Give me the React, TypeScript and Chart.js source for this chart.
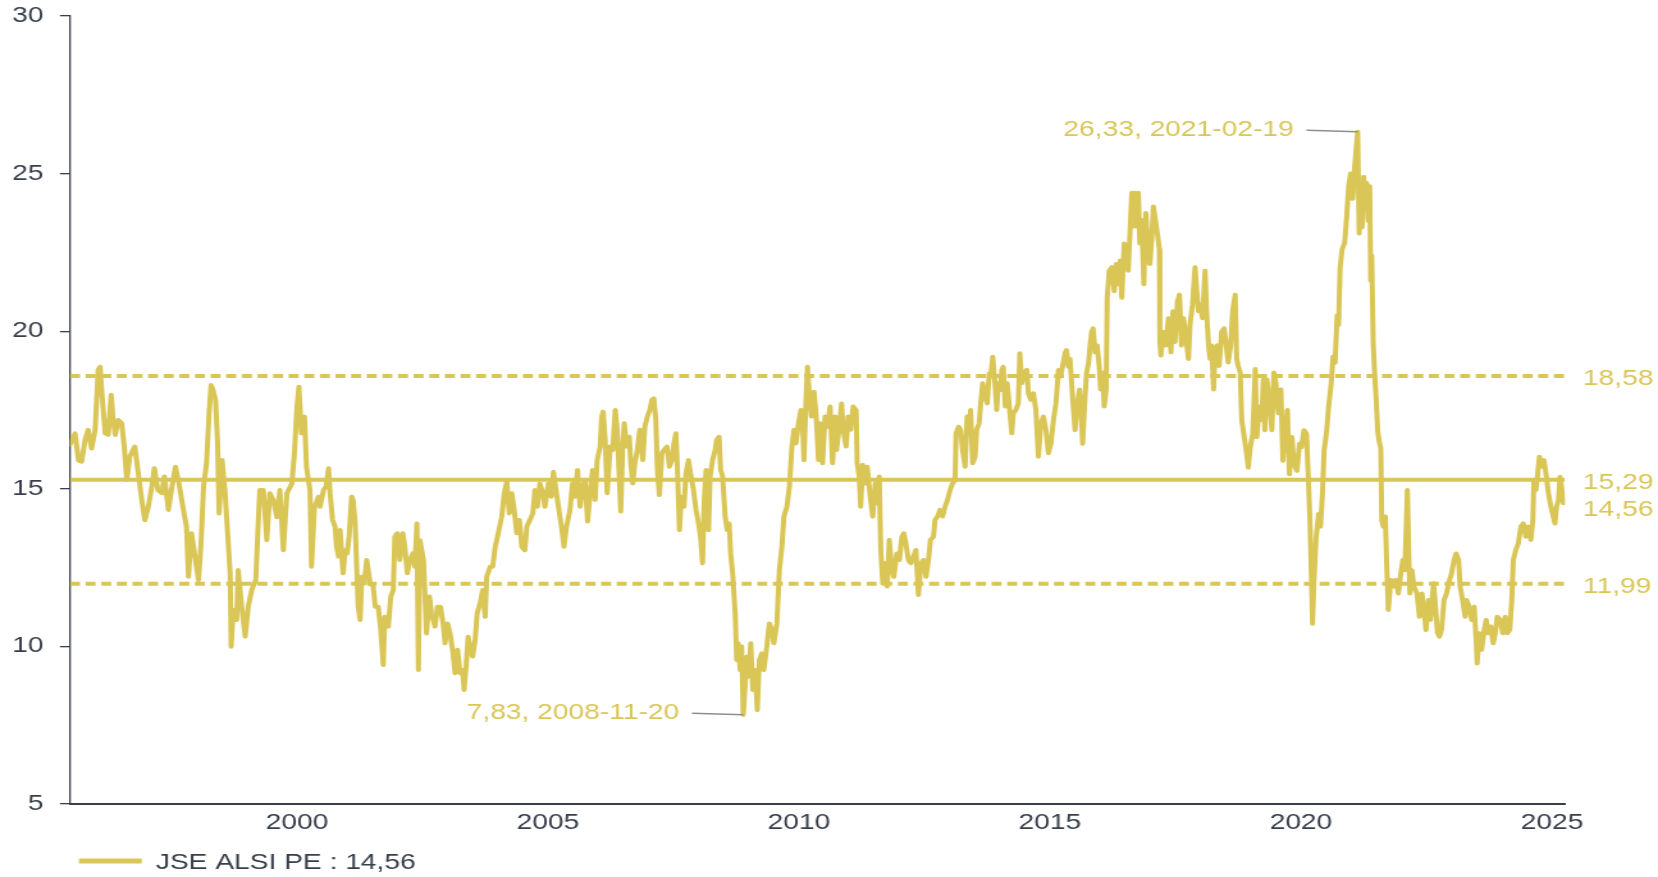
import React, { useEffect, useRef } from "react";
import { Chart, registerables } from "chart.js";

Chart.register(...registerables);

const SERIES_NAME = "JSE ALSI PE";

// decimal years
const dates: number[] = [
  1995.48, 1995.58, 1995.65, 1995.71, 1995.78, 1995.84, 1995.91, 1995.98, 1996.04, 1996.08,
  1996.12, 1996.18, 1996.24, 1996.30, 1996.34, 1996.38, 1996.44, 1996.51, 1996.56, 1996.61,
  1996.67, 1996.77, 1996.84, 1996.91, 1996.97, 1997.04, 1997.11, 1997.16, 1997.23, 1997.31,
  1997.36, 1997.44, 1997.50, 1997.58, 1997.65, 1997.74, 1997.80, 1997.84, 1997.90, 1997.97,
  1998.04, 1998.09, 1998.14, 1998.20, 1998.25, 1998.29, 1998.33, 1998.38, 1998.42, 1998.45,
  1998.51, 1998.57, 1998.62, 1998.67, 1998.69, 1998.73, 1998.80, 1998.83, 1998.90, 1998.97,
  1999.03, 1999.10, 1999.18, 1999.22, 1999.26, 1999.33, 1999.40, 1999.46, 1999.53, 1999.60,
  1999.66, 1999.73, 1999.80, 1999.90, 1999.95, 2000.00, 2000.04, 2000.09, 2000.15, 2000.19,
  2000.26, 2000.29, 2000.35, 2000.43,
  2000.46, 2000.53, 2000.58, 2000.63, 2000.66, 2000.71, 2000.76, 2000.79, 2000.83, 2000.86,
  2000.92, 2000.96, 2001.00, 2001.04, 2001.09, 2001.12, 2001.16, 2001.19, 2001.22, 2001.26,
  2001.29, 2001.34, 2001.39, 2001.46, 2001.52, 2001.56, 2001.62, 2001.67, 2001.72, 2001.75,
  2001.82, 2001.87, 2001.92, 2001.95, 2002.00, 2002.05, 2002.11, 2002.15, 2002.20, 2002.25,
  2002.31, 2002.35, 2002.39, 2002.42, 2002.45, 2002.52, 2002.55, 2002.58, 2002.64, 2002.68,
  2002.75, 2002.80, 2002.86, 2002.92, 2002.95, 2003.00, 2003.05, 2003.10, 2003.15, 2003.20,
  2003.25, 2003.30, 2003.33, 2003.37, 2003.41, 2003.46, 2003.50, 2003.55, 2003.59, 2003.65,
  2003.70, 2003.75, 2003.78, 2003.85, 2003.90, 2003.95, 2004.01, 2004.08, 2004.13, 2004.18,
  2004.23, 2004.28, 2004.32, 2004.38, 2004.43, 2004.48, 2004.54, 2004.58, 2004.64, 2004.70,
  2004.74, 2004.79, 2004.84, 2004.90, 2004.94, 2005.01, 2005.07, 2005.11, 2005.16, 2005.21,
  2005.27, 2005.32, 2005.37,
  2005.44, 2005.49, 2005.54, 2005.59, 2005.64, 2005.69, 2005.74, 2005.79, 2005.84, 2005.89,
  2005.94, 2005.98, 2006.04, 2006.07, 2006.10, 2006.14, 2006.18, 2006.24, 2006.29, 2006.34,
  2006.38, 2006.42, 2006.45, 2006.49, 2006.52, 2006.57, 2006.62, 2006.65, 2006.69, 2006.73,
  2006.78, 2006.83, 2006.89, 2006.93, 2006.98, 2007.03, 2007.07, 2007.11, 2007.15, 2007.18,
  2007.22, 2007.27, 2007.31, 2007.37, 2007.42, 2007.47, 2007.51, 2007.55, 2007.58, 2007.62,
  2007.66, 2007.71, 2007.75, 2007.80, 2007.84, 2007.90, 2007.95, 2008.00, 2008.04, 2008.08,
  2008.11, 2008.15, 2008.20, 2008.23, 2008.28, 2008.33, 2008.36, 2008.41, 2008.44, 2008.48,
  2008.53, 2008.57, 2008.61, 2008.64, 2008.68, 2008.73, 2008.76, 2008.79, 2008.83, 2008.86,
  2008.89, 2008.93, 2008.96, 2008.99, 2009.04, 2009.08, 2009.13, 2009.17, 2009.21, 2009.26,
  2009.30, 2009.36, 2009.41, 2009.46, 2009.50, 2009.56, 2009.61, 2009.66, 2009.70, 2009.76,
  2009.81, 2009.86, 2009.90, 2009.94, 2009.99, 2010.04, 2010.07, 2010.10, 2010.14, 2010.17,
  2010.21, 2010.25, 2010.30, 2010.34, 2010.39,
  2010.42, 2010.47, 2010.52, 2010.57, 2010.62, 2010.67, 2010.72, 2010.75, 2010.81, 2010.85,
  2010.88, 2010.94, 2010.98, 2011.03, 2011.08, 2011.14, 2011.16, 2011.20, 2011.23, 2011.27,
  2011.32, 2011.36, 2011.42, 2011.47, 2011.52, 2011.55, 2011.60, 2011.63, 2011.67, 2011.71,
  2011.76, 2011.80, 2011.85, 2011.89, 2011.95, 2012.00, 2012.05, 2012.09, 2012.13, 2012.18,
  2012.23, 2012.28, 2012.33, 2012.38, 2012.43, 2012.48, 2012.53, 2012.58, 2012.62, 2012.68,
  2012.71, 2012.76, 2012.81, 2012.86, 2012.91, 2012.96, 2013.01, 2013.06, 2013.11, 2013.13,
  2013.18, 2013.22, 2013.26, 2013.31, 2013.35, 2013.39, 2013.42, 2013.46, 2013.51, 2013.54,
  2013.59, 2013.62, 2013.66, 2013.71, 2013.75, 2013.79, 2013.82, 2013.86, 2013.91, 2013.94,
  2013.97, 2014.01, 2014.04, 2014.07, 2014.11, 2014.15, 2014.19, 2014.24, 2014.27, 2014.32,
  2014.37, 2014.40, 2014.44, 2014.48, 2014.54, 2014.57, 2014.62, 2014.67, 2014.72, 2014.77,
  2014.82, 2014.87, 2014.92, 2014.97, 2015.02, 2015.07, 2015.12, 2015.17, 2015.21, 2015.25,
  2015.30, 2015.33, 2015.37,
  2015.40, 2015.45, 2015.50, 2015.55, 2015.59, 2015.63, 2015.65, 2015.70, 2015.73, 2015.77,
  2015.80, 2015.83, 2015.86, 2015.90, 2015.94, 2015.98, 2016.01, 2016.05, 2016.08, 2016.12,
  2016.14, 2016.18, 2016.23, 2016.28, 2016.32, 2016.36, 2016.40, 2016.43, 2016.48, 2016.52,
  2016.56, 2016.60, 2016.63, 2016.66, 2016.69, 2016.73, 2016.76, 2016.79, 2016.83, 2016.87,
  2016.91, 2016.96, 2016.99, 2017.03, 2017.06, 2017.09, 2017.14, 2017.18, 2017.19, 2017.21,
  2017.26, 2017.31, 2017.36, 2017.41, 2017.45, 2017.49, 2017.54, 2017.58, 2017.62, 2017.66,
  2017.71, 2017.76, 2017.79, 2017.84, 2017.89, 2017.92, 2017.96, 2017.99, 2018.04, 2018.09,
  2018.12, 2018.16, 2018.19, 2018.22, 2018.26, 2018.29, 2018.33, 2018.37, 2018.42, 2018.47,
  2018.51, 2018.55, 2018.60, 2018.64, 2018.69, 2018.72, 2018.75, 2018.79, 2018.82, 2018.85,
  2018.91, 2018.95, 2018.99, 2019.04, 2019.09, 2019.12, 2019.17, 2019.22, 2019.25, 2019.28,
  2019.32, 2019.37, 2019.42, 2019.46, 2019.50, 2019.55, 2019.60, 2019.64, 2019.68, 2019.73,
  2019.77, 2019.82, 2019.86, 2019.92, 2019.97, 2020.01, 2020.06, 2020.11, 2020.15, 2020.18,
  2020.21, 2020.23,
  2020.26, 2020.30, 2020.35, 2020.39, 2020.43, 2020.46, 2020.51, 2020.55, 2020.60, 2020.64,
  2020.68, 2020.72, 2020.75, 2020.78, 2020.82, 2020.87, 2020.91, 2020.95, 2020.99, 2021.03,
  2021.07, 2021.10, 2021.13, 2021.16, 2021.19, 2021.22, 2021.25, 2021.28, 2021.31, 2021.34,
  2021.37, 2021.39, 2021.41, 2021.44, 2021.47, 2021.50, 2021.53, 2021.56, 2021.59, 2021.61,
  2021.64, 2021.68, 2021.71, 2021.74, 2021.79, 2021.84, 2021.89, 2021.94, 2021.99, 2022.03,
  2022.07, 2022.12, 2022.15, 2022.17, 2022.21, 2022.25, 2022.31, 2022.36, 2022.41, 2022.45,
  2022.49, 2022.54, 2022.58, 2022.64, 2022.67, 2022.72, 2022.76, 2022.80, 2022.85, 2022.90,
  2022.96, 2023.00, 2023.05, 2023.09, 2023.14, 2023.17, 2023.22, 2023.27, 2023.30, 2023.35,
  2023.40, 2023.45, 2023.49, 2023.51, 2023.55, 2023.60, 2023.65, 2023.69, 2023.73, 2023.78,
  2023.83, 2023.87, 2023.91, 2023.97, 2024.02, 2024.07, 2024.11, 2024.16, 2024.20, 2024.23,
  2024.28, 2024.33, 2024.38, 2024.43, 2024.48, 2024.53, 2024.58, 2024.62, 2024.64, 2024.68,
  2024.71, 2024.75, 2024.80, 2024.84, 2024.88, 2024.93, 2024.98, 2025.01, 2025.06, 2025.09,
  2025.13, 2025.16, 2025.19, 2025.23, 2025.26,
];

const peValues: number[] = [
  16.4, 16.76, 15.9, 15.86, 16.55, 16.87, 16.28, 16.87, 18.77, 18.87,
  17.92, 16.76, 16.71, 17.98, 17.18, 16.71, 17.18, 17.08, 16.34, 15.28,
  16.02, 16.34, 15.49, 14.64, 14.0, 14.43, 15.07, 15.65, 14.96, 14.86,
  15.39, 14.33, 14.96, 15.7, 15.17, 14.33, 13.8, 12.21, 13.59, 12.85,
  12.1, 13.27, 15.07, 15.81, 17.39, 18.29, 18.13, 17.82, 16.44, 14.22,
  15.91, 14.86, 13.59, 12.32, 9.99, 11.16, 10.84, 12.42, 11.26, 10.31,
  11.26, 11.79, 12.1, 13.59, 14.96, 14.96, 13.37, 14.86, 14.64, 14.1,
  14.96, 13.05, 14.86, 15.17, 16.12, 17.6, 18.24, 16.76, 17.29, 15.7,
  14.96, 12.53, 14.43, 14.75,
  14.43, 14.96, 15.07, 15.65, 14.86, 14.01, 13.8, 13.16, 12.85, 13.69,
  12.32, 13.05, 12.95, 13.48, 14.75, 14.64, 13.9, 12.53, 11.26, 10.84,
  12.21, 12.0, 12.74, 12.0, 11.9, 11.26, 11.26, 10.52, 9.41, 10.94,
  10.63, 11.58, 11.79, 13.48, 13.59, 12.74, 13.59, 13.16, 12.32, 12.74,
  12.95, 12.53, 13.9, 9.25, 13.37, 12.74, 11.68, 10.41, 11.58, 11.05,
  10.63, 11.26, 11.26, 10.63, 10.1, 10.73, 10.41, 9.89, 9.15, 9.89,
  9.15, 9.25, 8.62, 9.36, 10.31, 9.89, 9.68, 10.2, 11.05, 11.37,
  11.79, 10.94, 12.21, 12.53, 12.53, 13.16, 13.59, 14.12, 14.86, 15.23,
  14.22, 14.86, 14.43, 13.59, 14.01, 13.16, 13.05, 13.8, 14.01, 14.22,
  14.96, 14.43, 15.17, 14.86, 14.43, 15.17, 14.75, 15.54, 14.96, 14.43,
  13.8, 13.16, 13.8,
  14.33, 15.17, 14.75, 15.6, 14.43, 15.07, 15.28, 13.96, 14.86, 15.6,
  14.65, 15.91, 16.34, 17.29, 17.45, 16.55, 14.86, 16.34, 16.23, 17.5,
  16.87, 15.39, 14.28, 16.34, 17.08, 16.34, 16.65, 15.81, 15.17, 15.81,
  16.23, 16.87, 15.91, 16.97, 17.29, 17.5, 17.82, 17.87, 17.18, 15.6,
  14.8, 16.13, 16.23, 16.34, 15.7, 15.91, 16.44, 16.76, 15.6, 13.69,
  14.75, 14.43, 15.49, 15.91, 15.49, 14.96, 14.33, 13.9, 13.48, 12.64,
  14.54, 15.6, 13.69, 15.39, 15.91, 16.23, 16.55, 16.65, 15.6, 15.39,
  14.12, 13.69, 13.9, 12.95, 12.32, 11.05, 9.57, 10.1, 9.25, 10.0,
  7.83, 8.83, 9.67, 9.04, 10.1, 8.62, 9.25, 7.98, 9.57, 9.78,
  9.25, 10.0, 10.73, 10.52, 10.1, 10.73, 12.42, 13.16, 14.12, 14.43,
  15.07, 16.34, 16.87, 16.44, 17.08, 17.5, 17.18, 15.91, 17.82, 18.87,
  17.92, 17.29, 18.08, 17.39, 15.91,
  17.08, 15.81, 17.29, 16.97, 17.61, 15.81, 17.29, 16.23, 17.08, 17.71,
  16.87, 16.34, 17.29, 16.87, 17.61, 17.5, 15.81, 15.39, 14.43, 15.76,
  15.17, 15.7, 14.75, 14.12, 15.17, 14.54, 15.39, 13.06, 12.0, 12.64,
  11.9, 13.38, 12.42, 12.21, 12.95, 12.74, 13.48, 13.59, 13.27, 12.74,
  12.64, 12.85, 13.06, 11.63, 12.64, 12.74, 12.21, 12.74, 13.38, 13.48,
  14.01, 14.12, 14.33, 14.12, 14.43, 14.65, 14.96, 15.17, 15.28, 16.76,
  16.97, 16.87, 16.23, 15.7, 17.29, 16.97, 17.5, 15.81, 16.02, 16.87,
  17.08, 17.71, 18.35, 17.92, 17.71, 18.66, 18.56, 19.19, 18.24, 17.5,
  18.35, 18.13, 18.77, 18.87, 17.61, 18.35, 17.61, 16.76, 17.39, 17.5,
  17.71, 19.3, 18.35, 18.66, 18.77, 18.03, 17.82, 18.03, 17.5, 16.02,
  17.08, 17.29, 16.87, 16.13, 16.44, 17.18, 17.71, 18.77, 18.56, 18.87,
  19.3, 19.4, 18.87,
  19.12, 17.93, 16.86, 17.72, 18.15, 17.18, 16.43, 17.93, 18.69, 19.01,
  19.55, 19.98, 20.09, 19.33, 19.55, 18.9, 18.15, 18.69, 17.61, 18.15,
  21.06, 21.92, 22.03, 21.27, 22.13, 21.49, 22.24, 21.06, 22.78, 22.56,
  21.92, 23.32, 24.39, 23.32, 24.39, 23.32, 24.39, 22.78, 23.53, 21.49,
  23.75, 22.46, 22.13, 22.99, 23.96, 23.64, 23.1, 22.6, 19.66, 19.23,
  19.98, 19.55, 20.41, 19.33, 20.63, 19.66, 20.95, 21.16, 19.55, 20.41,
  19.77, 19.12, 20.2, 20.84, 22.03, 21.38, 20.63, 20.84, 20.41, 21.92,
  20.63, 19.55, 19.12, 19.55, 18.15, 19.33, 19.55, 18.9, 19.98, 20.09,
  19.55, 19.01, 19.55, 20.63, 21.16, 19.12, 18.9, 18.69, 17.18, 16.86,
  16.21, 15.67, 16.32, 16.75, 18.8, 16.64, 17.61, 17.18, 18.47, 16.86,
  18.47, 17.83, 16.86, 18.69, 18.37, 17.4, 18.15, 15.89, 16.75, 17.5,
  15.46, 16.64, 15.78, 15.57, 16.43, 16.32, 16.86, 16.75, 15.24, 13.95,
  12.12, 10.72,
  12.1, 13.4, 14.2, 13.8, 14.9, 16.2, 16.8, 17.6, 18.3, 19.2,
  19.0, 20.5, 20.2, 22.0, 22.6, 22.8, 23.6, 24.6, 25.0, 24.2,
  25.2, 25.8, 26.33, 23.1, 24.4, 23.3, 24.9, 24.0, 24.7, 23.5,
  24.6, 21.6, 22.4, 19.6, 18.6, 17.8, 16.8, 16.5, 16.3, 14.0,
  13.8, 14.12, 12.53, 11.16, 12.11, 11.9, 12.11, 11.68, 12.32, 12.74,
  12.42, 14.96, 12.74, 11.68, 12.42, 11.9, 11.68, 10.94, 11.68, 11.16,
  10.52, 11.47, 10.84, 12.0, 11.47, 10.42, 10.31, 10.52, 11.47, 11.68,
  12.11, 12.32, 12.74, 12.95, 12.74, 11.9, 11.47, 10.94, 11.47, 11.26,
  10.84, 11.26, 10.2, 9.46, 10.42, 9.89, 10.52, 10.84, 10.42, 10.63,
  10.1, 10.42, 10.94, 10.84, 10.42, 10.94, 10.42, 10.52, 11.47, 12.74,
  13.06, 13.27, 13.8, 13.9, 13.48, 13.8, 13.38, 14.01, 15.28, 14.96,
  15.38, 16.02, 15.7, 15.91, 15.49, 14.86, 14.43, 14.22, 13.9, 14.43,
  14.64, 15.38, 15.07, 14.54, 14.56,
];

// +1 sd, average, -1 sd
const refLevels: number[] = [18.58, 15.29, 11.99];
const refDashed: boolean[] = [true, false, true];

const yMin = 5;
const yMax = 30;
const yStep = 5;
const xStep = 5;

const maxDateLabel = "2021-02-19";
const minDateLabel = "2008-11-20";

const GOLD = "#d9c656";
const AXIS = "#373f4b";
const CONNECTOR = "#8e8e8e";
const FONT = "'Liberation Sans', Arial, Helvetica, sans-serif";
const FONT_SIZE = 22;
const OUT_W = 1658;
const OUT_H = 877;
const CANVAS_W = 1295; // drawn narrower, then stretched horizontally to OUT_W
const SX = OUT_W / CANVAS_W;

const fmt = (v: number) => v.toFixed(2).replace(".", ",");

const refLabelPlugin = {
  id: "refLabels",
  afterDatasetsDraw(chart: any) {
    const { ctx, chartArea, scales } = chart;
    const vals = [...refLevels, peValues[peValues.length - 1]];
    const items = vals.map((v) => ({ v, y: scales.y.getPixelForValue(v) + 3 }));
    items.sort((a, b) => a.y - b.y);
    for (let i = 1; i < items.length; i++) {
      if (items[i].y < items[i - 1].y + 27) items[i].y = items[i - 1].y + 27;
    }
    ctx.save();
    ctx.font = `${FONT_SIZE}px ${FONT}`;
    ctx.fillStyle = GOLD;
    ctx.textAlign = "left";
    ctx.textBaseline = "middle";
    items.forEach((it) => ctx.fillText(fmt(it.v), chartArea.right + 14, it.y));
    ctx.restore();
  },
};

const extremesPlugin = {
  id: "extremes",
  afterDatasetsDraw(chart: any) {
    const { ctx, scales } = chart;
    let iMax = 0;
    let iMin = 0;
    peValues.forEach((v, i) => {
      if (v > peValues[iMax]) iMax = i;
      if (v < peValues[iMin]) iMin = i;
    });
    const marks = [
      { i: iMax, date: maxDateLabel },
      { i: iMin, date: minDateLabel },
    ];
    ctx.save();
    marks.forEach(({ i, date }) => {
      const px = scales.x.getPixelForValue(dates[i]);
      const py = scales.y.getPixelForValue(peValues[i]);
      const sx = px - 40;
      const sy = py - 1.5;
      ctx.strokeStyle = CONNECTOR;
      ctx.lineWidth = 1.5;
      ctx.beginPath();
      ctx.moveTo(sx, sy);
      ctx.lineTo(px, py);
      ctx.stroke();
      ctx.font = `${FONT_SIZE}px ${FONT}`;
      ctx.fillStyle = GOLD;
      ctx.textAlign = "right";
      ctx.textBaseline = "middle";
      ctx.fillText(`${fmt(peValues[i])}, ${date}`, sx - 10, sy);
    });
    ctx.restore();
  },
};

const legendPlugin = {
  id: "bottomLegend",
  afterDraw(chart: any) {
    const { ctx, chartArea } = chart;
    const x0 = chartArea.left + 7;
    const y = chart.height - 16;
    ctx.save();
    ctx.strokeStyle = GOLD;
    ctx.lineWidth = 5;
    ctx.lineCap = "butt";
    ctx.beginPath();
    ctx.moveTo(x0, y);
    ctx.lineTo(x0 + 49, y);
    ctx.stroke();
    ctx.font = `${FONT_SIZE}px ${FONT}`;
    ctx.fillStyle = AXIS;
    ctx.textAlign = "left";
    ctx.textBaseline = "middle";
    ctx.fillText(`${SERIES_NAME} : ${fmt(peValues[peValues.length - 1])}`, x0 + 49 + FONT_SIZE / 2, y + 1.5);
    ctx.restore();
  },
};

export default function App() {
  const canvasRef = useRef<HTMLCanvasElement | null>(null);

  useEffect(() => {
    const canvas = canvasRef.current;
    if (!canvas) return;
    const xMin = dates[0];
    const xMax = dates[dates.length - 1];
    const points = dates.map((d, i) => ({ x: d, y: peValues[i] }));
    const chartLeft = 70 / SX;
    const chartRight = 1565 / SX;
    const padLeft = 5;

    const chart = new Chart(canvas, {
      type: "line",
      data: {
        datasets: [
          {
            label: SERIES_NAME,
            data: points,
            borderColor: GOLD,
            backgroundColor: GOLD,
            borderWidth: 4,
            pointRadius: 0,
            tension: 0,
            borderJoinStyle: "round",
            borderCapStyle: "round",
            order: 0,
          },
          ...refLevels.map((v, k) => ({
            label: `ref${k}`,
            data: [
              { x: xMin, y: v },
              { x: xMax, y: v },
            ],
            borderColor: GOLD,
            backgroundColor: GOLD,
            borderWidth: 4,
            borderDash: refDashed[k] ? [7.8, 4.4] : [],
            borderCapStyle: "butt",
            pointRadius: 0,
            order: 1,
          })),
        ],
      },
      options: {
        responsive: false,
        animation: false,
        devicePixelRatio: 1,
        events: [],
        layout: {
          padding: { left: padLeft, right: CANVAS_W - chartRight, top: 16, bottom: 29 },
        },
        plugins: {
          legend: { display: false },
          tooltip: { enabled: false },
        },
        scales: {
          x: {
            type: "linear",
            min: xMin,
            max: xMax,
            afterFit: (s: any) => {
              s.height = 44;
            },
            grid: { display: false },
            border: { display: true, color: AXIS, width: 2 },
            ticks: {
              stepSize: xStep,
              includeBounds: false,
              autoSkip: false,
              maxRotation: 0,
              padding: -2,
              color: AXIS,
              font: { family: FONT, size: FONT_SIZE },
              callback: (v: any) => String(v),
            },
          },
          y: {
            type: "linear",
            min: yMin,
            max: yMax,
            afterFit: (s: any) => {
              s.width = chartLeft - padLeft;
              s.paddingTop = 0;
              s.paddingBottom = 0;
            },
            grid: {
              drawOnChartArea: false,
              drawTicks: true,
              tickLength: 7.8,
              color: AXIS,
              lineWidth: 1.3,
            },
            border: { display: true, color: AXIS, width: 1.3 },
            ticks: {
              stepSize: yStep,
              padding: 13,
              color: AXIS,
              font: { family: FONT, size: FONT_SIZE },
              callback: (v: any) => String(v),
            },
          },
        },
      },
      plugins: [refLabelPlugin, extremesPlugin, legendPlugin],
    } as any);

    return () => chart.destroy();
  }, []);

  return (
    <div
      style={{
        position: "fixed",
        left: 0,
        top: 0,
        width: OUT_W,
        height: OUT_H,
        overflow: "hidden",
        background: "#ffffff",
      }}
    >
      <canvas
        ref={canvasRef}
        width={CANVAS_W}
        height={OUT_H}
        style={{ width: `${OUT_W}px`, height: `${OUT_H}px`, display: "block" }}
      />
    </div>
  );
}
